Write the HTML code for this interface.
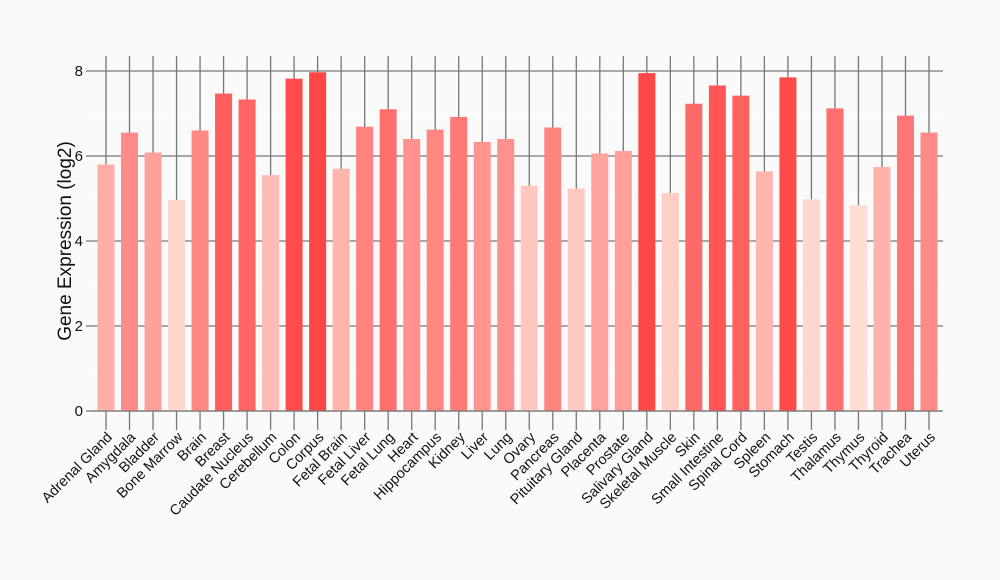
<!DOCTYPE html>
<html><head><meta charset="utf-8"><style>
html,body{margin:0;padding:0;background:#fafafa;}
svg{display:block;font-family:"Liberation Sans",Arial,sans-serif;}
</style></head><body>
<svg id="s" width="1000" height="580" xmlns="http://www.w3.org/2000/svg"></svg>
<script>
const names=["Adrenal Gland","Amygdala","Bladder","Bone Marrow","Brain","Breast","Caudate Nucleus","Cerebellum","Colon","Corpus","Fetal Brain","Fetal Liver","Fetal Lung","Heart","Hippocampus","Kidney","Liver","Lung","Ovary","Pancreas","Pituitary Gland","Placenta","Prostate","Salivary Gland","Skeletal Muscle","Skin","Small Intestine","Spinal Cord","Spleen","Stomach","Testis","Thalamus","Thymus","Thyroid","Trachea","Uterus"];
const vals=[5.8,6.55,6.08,4.97,6.6,7.47,7.33,5.55,7.82,7.97,5.7,6.69,7.1,6.4,6.62,6.92,6.33,6.4,5.3,6.67,5.23,6.06,6.12,7.95,5.13,7.23,7.66,7.42,5.64,7.85,4.98,7.12,4.84,5.74,6.95,6.55];
const y0=411,k=42.5,x0=106,dx=(929-106)/35;
let h='';
h+='<rect x="92" y="56" width="851" height="355" fill="#fafafa"/>';
for(let v=1;v<8;v+=2){const y=y0-v*k;h+=`<line x1="92" x2="943" y1="${y}" y2="${y}" stroke="#fff" stroke-width="1"/>`;}
for(let i=0;i<36;i++){const x=x0+i*dx;h+=`<line x1="${x}" x2="${x}" y1="56" y2="430" stroke="#777" stroke-width="1.3"/>`;}
for(let v=0;v<=8;v+=2){const y=y0-v*k;h+=`<line x1="86" x2="943" y1="${y}" y2="${y}" stroke="#777" stroke-width="1.3"/><text x="83" y="${y+5}" font-size="15" text-anchor="end" fill="#111">${v}</text>`;}
for(let i=0;i<36;i++){const x=x0+i*dx,v=vals[i];let t=(v-4.84)/(7.97-4.84);t=Math.max(0,Math.min(1,t));
const g=Math.round(221-t*(221-70)),b=Math.round(211-t*(211-70));
h+=`<rect x="${x-8.5}" y="${y0-v*k}" width="17" height="${v*k}" fill="rgb(255,${g},${b})"/>`;
h+=`<text transform="translate(${x+7},${438}) rotate(-45)" font-size="14.5" text-anchor="end" fill="#111">${names[i]}</text>`;}
h+='<line x1="92" x2="943" y1="411" y2="411" stroke="#777" stroke-width="1.3"/>';
h+='<text transform="translate(71,241) rotate(-90)" font-size="19" text-anchor="middle" fill="#111">Gene Expression (log2)</text>';
document.getElementById('s').innerHTML=h;
</script>
</body></html>
